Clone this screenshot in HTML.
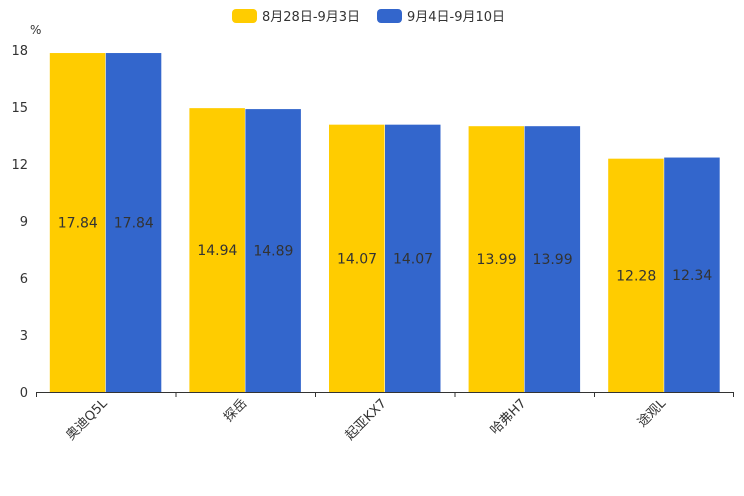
<!DOCTYPE html>
<html><head><meta charset="utf-8"><style>body{margin:0;background:#fff}svg{display:block}</style></head><body>
<svg width="744" height="496" xmlns="http://www.w3.org/2000/svg" font-family="'DejaVu Sans','Liberation Sans','Noto Sans CJK SC',sans-serif">
<rect x="232" y="9" width="25" height="14" rx="4" fill="#ffcc00"/>
<text x="262" y="21" font-size="13" fill="#333">8月28日-9月3日</text>
<rect x="377" y="9" width="25" height="14" rx="4" fill="#3366cc"/>
<text x="407" y="21" font-size="13" fill="#333">9月4日-9月10日</text>
<text x="30" y="34" font-size="12" fill="#333">%</text>
<g font-size="13" fill="#333" text-anchor="end">
<text x="28" y="397">0</text><text x="28" y="340">3</text><text x="28" y="283">6</text><text x="28" y="226">9</text><text x="28" y="169">12</text><text x="28" y="112">15</text><text x="28" y="55">18</text>
</g>
<g>
<rect x="49.8" y="53.04" width="55.5" height="338.96" fill="#ffcc00"/>
<rect x="105.8" y="53.04" width="55.5" height="338.96" fill="#3366cc"/>
<rect x="189.4" y="108.14" width="55.5" height="283.86" fill="#ffcc00"/>
<rect x="245.4" y="109.09" width="55.5" height="282.91" fill="#3366cc"/>
<rect x="329" y="124.67" width="55.5" height="267.33" fill="#ffcc00"/>
<rect x="385" y="124.67" width="55.5" height="267.33" fill="#3366cc"/>
<rect x="468.6" y="126.19" width="55.5" height="265.81" fill="#ffcc00"/>
<rect x="524.6" y="126.19" width="55.5" height="265.81" fill="#3366cc"/>
<rect x="608.2" y="158.68" width="55.5" height="233.32" fill="#ffcc00"/>
<rect x="664.2" y="157.54" width="55.5" height="234.46" fill="#3366cc"/>
</g>
<g font-size="14" fill="#333" text-anchor="middle">
<text x="77.8" y="227.5">17.84</text><text x="133.8" y="227.5">17.84</text>
<text x="217.4" y="255.1">14.94</text><text x="273.4" y="255.5">14.89</text>
<text x="357" y="263.3">14.07</text><text x="413" y="263.3">14.07</text>
<text x="496.6" y="264.1">13.99</text><text x="552.6" y="264.1">13.99</text>
<text x="636.2" y="280.3">12.28</text><text x="692.2" y="279.8">12.34</text>
</g>
<g font-size="13" fill="#333" text-anchor="end">
<text transform="translate(107.8,404) rotate(-45)">奥迪Q5L</text>
<text transform="translate(247.4,404) rotate(-45)">探岳</text>
<text transform="translate(387,404) rotate(-45)">起亚KX7</text>
<text transform="translate(526.6,404) rotate(-45)">哈弗H7</text>
<text transform="translate(666.2,404) rotate(-45)">途观L</text>
</g>
<line x1="36" y1="392.5" x2="734" y2="392.5" stroke="#333"/>
<g stroke="#333">
<line x1="36.5" y1="392" x2="36.5" y2="397"/><line x1="176" y1="392" x2="176" y2="397"/><line x1="315.5" y1="392" x2="315.5" y2="397"/><line x1="455" y1="392" x2="455" y2="397"/><line x1="594.5" y1="392" x2="594.5" y2="397"/><line x1="733.5" y1="392" x2="733.5" y2="397"/>
</g>
</svg>
</body></html>
